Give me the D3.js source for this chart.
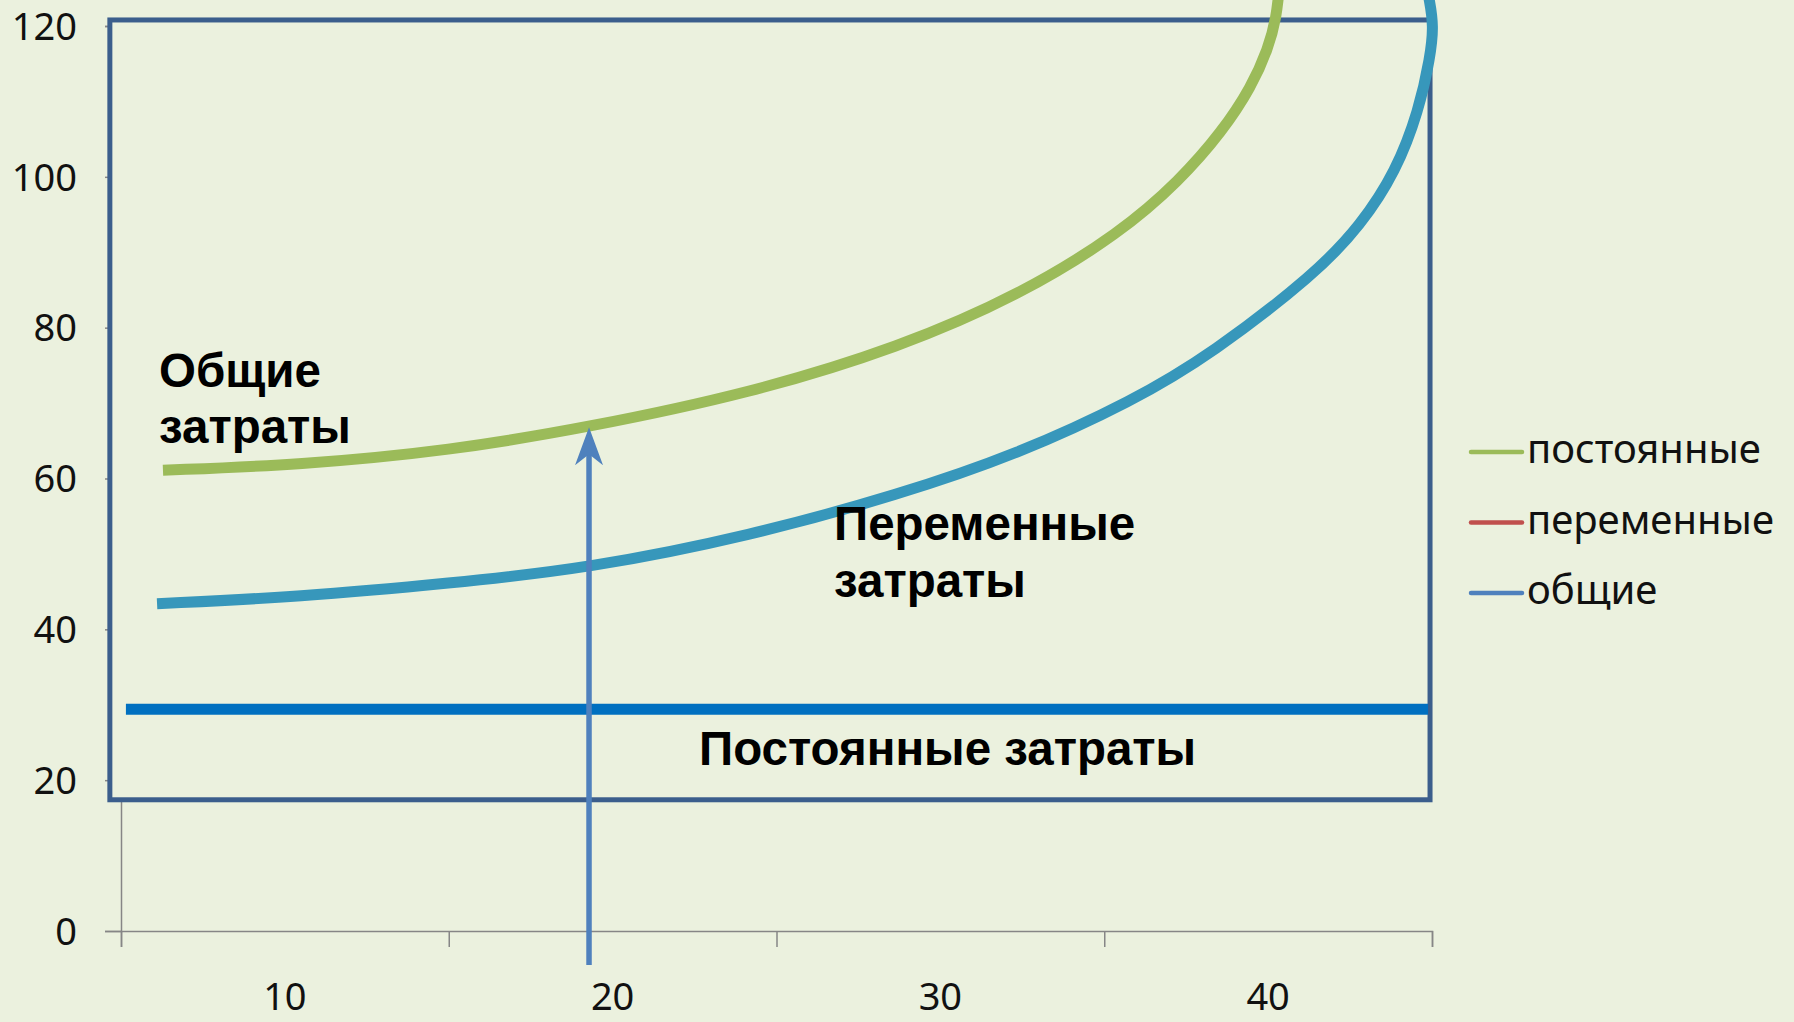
<!DOCTYPE html>
<html>
<head>
<meta charset="utf-8">
<script src="https://cdn.jsdelivr.net/npm/d3@7"></script>
<style>
  html, body { margin: 0; padding: 0; background: #EBF1DE; }
  svg { display: block; }
</style>
</head>
<body>
<div class="container"></div>
<script>
// DATA
// category axis (Excel style: labels in the middle, ticks between)
const categories = ["10", "20", "30", "40"];
const categoryValues = [10, 20, 30, 40];
const categoryBounds = [5, 15, 25, 35, 45];
const yTicks = [0, 20, 40, 60, 80, 100, 120];

// total costs curve
const totalCostX = [6.28, 10.46, 15.04, 19.28, 24.19, 28.77, 32.5, 35.5, 37.3, 38.6, 39.5, 40.0, 40.25, 40.35];
const totalCostY = [61.1, 61.8, 63.7, 66.8, 71.3, 77.4, 84.5, 92.6, 99.5, 106.0, 112.0, 117.0, 121.0, 125.5];

// variable costs curve
const variableCostX = [6.10, 10.46, 15.04, 19.28, 24.19, 28.77, 32.34, 35.88, 38.3, 41.46, 42.83, 43.9, 44.6, 44.95, 45.05, 44.92, 44.82];
const variableCostY = [43.4, 44.3, 46.1, 48.1, 52.4, 57.9, 63.2, 70.3, 76.6, 87.2, 93.6, 100.7, 108.8, 116.0, 120.0, 123.5, 125.5];

// fixed costs level and its extent
const fixedCostLevel = 29.4;
const fixedCostRange = [5.15, 44.88];

// output level arrow: from below the axis up to the total cost curve
const outputLevel = 19.28;
const outputArrowY = [-4.5, 66.8];

// frame drawn over the plot
const frameX = [4.66, 44.94];
const frameY = [17.4, 120.8];

const legendNames = ["постоянные", "переменные", "общие"];

// SETUP
const width = 1794;
const height = 1022;

const colors = {
  bg: "#EBF1DE",
  axis: "#868686",
  frame: "#3B5E8C",
  total: "#9BBB59",
  variable: "#3797BB",
  fixed: "#0070C0",
  arrow: "#4F81BD",
  legend: ["#9BBB59", "#C0504D", "#4F81BD"]
};

const xScale = d3.scaleLinear().domain([5, 45]).range([121, 1432]);
const yScale = d3.scaleLinear().domain([0, 120]).range([931, 26]);

const svg = d3.select(".container")
  .append("svg")
  .attr("width", width)
  .attr("height", height);

svg.append("rect")
  .attr("width", width)
  .attr("height", height)
  .attr("fill", colors.bg);

// AXES
const yAxis = svg.append("g")
  .attr("transform", `translate(${xScale(5)},0)`)
  .call(d3.axisLeft(yScale).tickValues(yTicks).tickSize(16).tickFormat(""));

const xAxis = svg.append("g")
  .attr("transform", `translate(0,${yScale(0)})`)
  .call(d3.axisBottom(xScale).tickValues(categoryBounds).tickSize(16).tickFormat(""));

[yAxis, xAxis].forEach(g => {
  g.selectAll("path, line").attr("stroke", colors.axis).attr("stroke-width", 1.5);
});

// tick labels
svg.append("g")
  .selectAll("text")
  .data(yTicks)
  .join("text")
  .attr("x", 77)
  .attr("y", d => yScale(d))
  .attr("dy", "0.36em")
  .attr("text-anchor", "end")
  .attr("font-family", "'Noto Sans', 'Open Sans', sans-serif")
  .attr("font-size", 38)
  .attr("fill", "#111")
  .text(d => d);

svg.append("g")
  .selectAll("text")
  .data(categoryValues)
  .join("text")
  .attr("x", d => xScale(d))
  .attr("y", 1010)
  .attr("text-anchor", "middle")
  .attr("font-family", "'Noto Sans', 'Open Sans', sans-serif")
  .attr("font-size", 38)
  .attr("fill", "#111")
  .text((d, i) => categories[i]);

// FRAME (filled, so it hides the axis inside it, like the original)
svg.append("rect")
  .attr("x", xScale(frameX[0]))
  .attr("y", yScale(frameY[1]))
  .attr("width", xScale(frameX[1]) - xScale(frameX[0]))
  .attr("height", yScale(frameY[0]) - yScale(frameY[1]))
  .attr("fill", colors.bg)
  .attr("stroke", colors.frame)
  .attr("stroke-width", 5);

// CURVES
const line = d3.line()
  .x(d => xScale(d[0]))
  .y(d => yScale(d[1]))
  .curve(d3.curveBasis);

svg.append("line")
  .attr("x1", xScale(fixedCostRange[0]))
  .attr("x2", xScale(fixedCostRange[1]))
  .attr("y1", yScale(fixedCostLevel))
  .attr("y2", yScale(fixedCostLevel))
  .attr("stroke", colors.fixed)
  .attr("stroke-width", 11);

svg.append("path")
  .datum(d3.zip(variableCostX, variableCostY))
  .attr("d", line)
  .attr("fill", "none")
  .attr("stroke", colors.variable)
  .attr("stroke-width", 11);

svg.append("path")
  .datum(d3.zip(totalCostX, totalCostY))
  .attr("d", line)
  .attr("fill", "none")
  .attr("stroke", colors.total)
  .attr("stroke-width", 11);

// ARROW
const ax = xScale(outputLevel);
const tipY = yScale(outputArrowY[1]);
svg.append("line")
  .attr("x1", ax).attr("x2", ax)
  .attr("y1", yScale(outputArrowY[0]))
  .attr("y2", tipY + 26)
  .attr("stroke", colors.arrow)
  .attr("stroke-width", 5.5);
svg.append("path")
  .attr("d", `M${ax},${tipY} L${ax + 14},${tipY + 38} L${ax},${tipY + 27} L${ax - 14},${tipY + 38} Z`)
  .attr("fill", colors.arrow);

// LABELS
const labels = [
  { text: "Общие", x: 159, y: 387 },
  { text: "затраты", x: 159, y: 443 },
  { text: "Переменные", x: 834, y: 540 },
  { text: "затраты", x: 834, y: 597 },
  { text: "Постоянные затраты", x: 699, y: 765 }
];
svg.append("g")
  .selectAll("text")
  .data(labels)
  .join("text")
  .attr("x", d => d.x)
  .attr("y", d => d.y)
  .attr("font-family", "'Liberation Sans', Arial, sans-serif")
  .attr("font-weight", "bold")
  .attr("font-size", 47.5)
  .attr("fill", "#000")
  .text(d => d.text);

// LEGEND
const legend = svg.append("g");
legendNames.forEach((name, i) => {
  const ly = 452 + i * 70.5;
  legend.append("line")
    .attr("x1", 1471).attr("x2", 1522)
    .attr("y1", ly).attr("y2", ly)
    .attr("stroke", colors.legend[i])
    .attr("stroke-width", 4.5)
    .attr("stroke-linecap", "round");
  legend.append("text")
    .attr("x", 1527)
    .attr("y", ly + 11)
    .attr("font-family", "'Noto Sans', 'Open Sans', sans-serif")
    .attr("font-size", 40)
    .attr("fill", "#111")
    .text(name);
});
</script>
</body>
</html>
